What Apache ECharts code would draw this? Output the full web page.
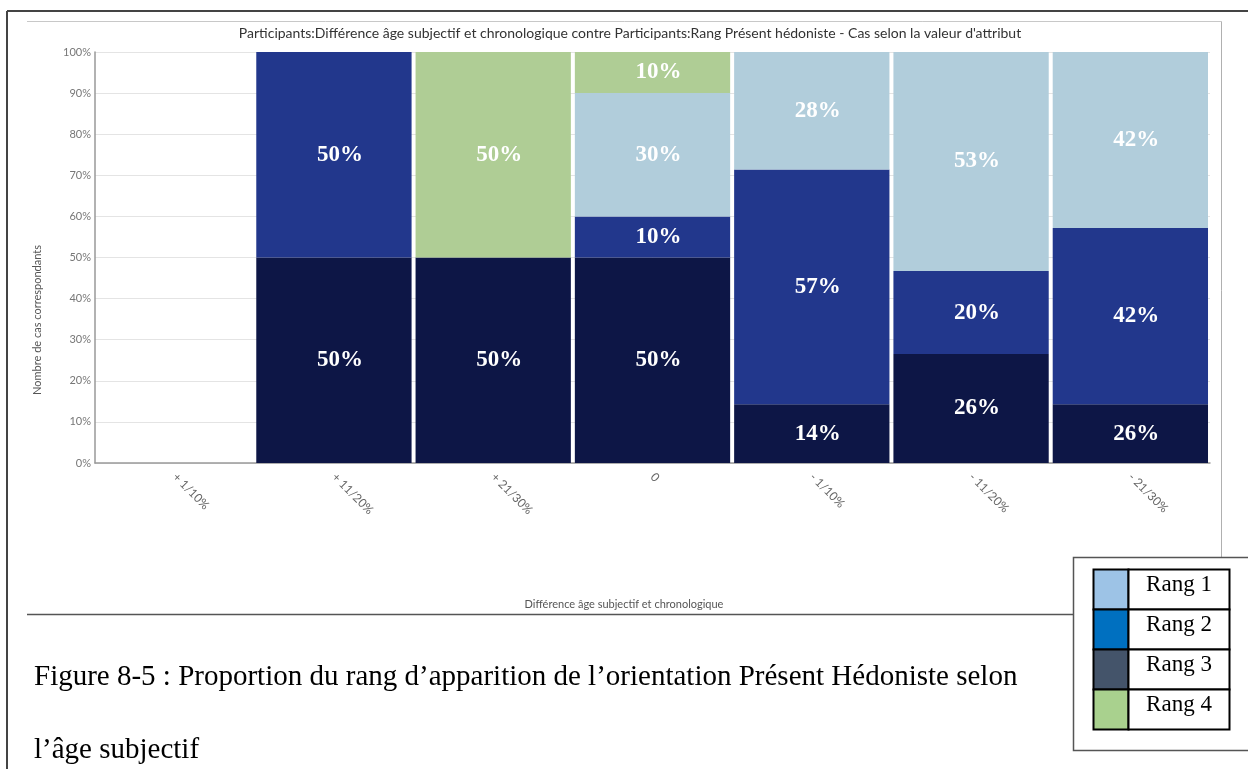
<!DOCTYPE html>
<html><head><meta charset="utf-8">
<script src="https://cdn.jsdelivr.net/npm/echarts@6/dist/echarts.min.js"></script>
<style>html,body{margin:0;padding:0;background:#fff}#c{width:1248px;height:769px}</style>
</head><body><div id="c"></div>
<script>
const categories = ['+ 1/10%', '+ 11/20%', '+ 21/30%', '0', '- 1/10%', '- 11/20%', '- 21/30%'];
const rang3Values = [0, 50, 50, 50, 14.3, 26.5, 14.3];
const rang2Values = [0, 50, 0, 10, 57.1, 20.2, 42.9];
const rang1Values = [0, 0, 0, 30, 28.6, 53.3, 42.8];
const rang4Values = [0, 0, 50, 10, 0, 0, 0];
const rang3Labels = ['', '50%', '50%', '50%', '14%', '26%', '26%'];
const rang2Labels = ['', '50%', '', '10%', '57%', '20%', '42%'];
const rang1Labels = ['', '', '', '30%', '28%', '53%', '42%'];
const rang4Labels = ['', '', '50%', '10%', '', '', ''];
const yTicks = [0, 10, 20, 30, 40, 50, 60, 70, 80, 90, 100];
const legendNames = ['Rang 1', 'Rang 2', 'Rang 3', 'Rang 4'];
const legendColors = ['#9dc3e6', '#0070c0', '#44546a', '#a9d18e'];
const chartTitle = "Participants:Différence âge subjectif et chronologique contre Participants:Rang Présent hédoniste - Cas selon la valeur d'attribut";
const yName = 'Nombre de cas correspondants';
const xName = 'Différence âge subjectif et chronologique';
const caption1 = 'Figure 8-5 : Proportion du rang d\u2019apparition de l\u2019orientation Présent Hédoniste selon';
const caption2 = 'l\u2019âge subjectif';

const chart = echarts.init(document.getElementById('c'), null, {renderer: 'canvas'});
function mk(name, vals, labs, color) {
  return {
    name: name, type: 'bar', stack: 'all', data: vals, barCategoryGap: '2.5%',
    itemStyle: {color: color},
    label: {show: true, position: 'inside', offset: [6, 0], color: '#fff', fontFamily: 'Liberation Serif',
      fontWeight: 'bold', fontSize: 23, formatter: p => labs[p.dataIndex]},
    emphasis: {disabled: true}
  };
}
const graphics = [
  {type: 'line', shape: {x1: 7, y1: 11, x2: 1248, y2: 11}, style: {stroke: '#444', lineWidth: 2}, z: 100},
  {type: 'line', shape: {x1: 7, y1: 11, x2: 7, y2: 769}, style: {stroke: '#444', lineWidth: 2}, z: 100},
  {type: 'line', shape: {x1: 27, y1: 21.5, x2: 1221.5, y2: 21.5}, style: {stroke: '#c8c8c8', lineWidth: 1}, z: 100},
  {type: 'line', shape: {x1: 1221.5, y1: 21.5, x2: 1221.5, y2: 560}, style: {stroke: '#b0b0b0', lineWidth: 1}, z: 100},
  {type: 'line', shape: {x1: 27, y1: 614.5, x2: 1073, y2: 614.5}, style: {stroke: '#555', lineWidth: 1.5}, z: 100},
  {type: 'text', x: 37, y: 320, rotation: Math.PI / 2, style: {text: yName, font: '11px Lato', fill: '#555', textAlign: 'center', textVerticalAlign: 'middle'}, z: 100},
  {type: 'text', x: 624, y: 604, style: {text: xName, font: '11px Lato', fill: '#555', textAlign: 'center', textVerticalAlign: 'middle'}, z: 100},
  {type: 'text', x: 34, y: 677, style: {text: caption1, font: '29px "Liberation Serif"', fill: '#000', textAlign: 'left', textVerticalAlign: 'middle'}, z: 100},
  {type: 'text', x: 34, y: 750, style: {text: caption2, font: '29px "Liberation Serif"', fill: '#000', textAlign: 'left', textVerticalAlign: 'middle'}, z: 100},
  {type: 'rect', shape: {x: 1073.5, y: 557.5, width: 180, height: 193}, style: {fill: '#fff', stroke: '#555', lineWidth: 1.5}, z: 100}
];
const tx = 1093.5, ty = 569.5, rowH = 40, swW = 35, tw = 136;
legendNames.forEach((n, i) => {
  graphics.push({type: 'rect', shape: {x: tx, y: ty + i * rowH, width: swW, height: rowH}, style: {fill: legendColors[i], stroke: '#000', lineWidth: 2}, z: 101});
  graphics.push({type: 'rect', shape: {x: tx + swW, y: ty + i * rowH, width: tw - swW, height: rowH}, style: {fill: '#fff', stroke: '#000', lineWidth: 2}, z: 101});
  graphics.push({type: 'text', x: tx + swW + (tw - swW) / 2, y: ty + i * rowH + 15, style: {text: n, font: '23px "Liberation Serif"', fill: '#000', textAlign: 'center', textVerticalAlign: 'middle'}, z: 102});
});
chart.setOption({
  animation: false,
  backgroundColor: '#fff',
  title: {text: chartTitle, left: 625, textAlign: 'center', top: 21,
    textStyle: {fontFamily: 'Lato', fontSize: 14, fontWeight: 'normal', color: '#333'}},
  grid: {left: 95, right: 38, top: 52, bottom: 306},
  xAxis: {type: 'category', data: categories,
    axisLine: {lineStyle: {color: '#999', width: 1.5}}, axisTick: {show: false},
    axisLabel: {rotate: -45, fontFamily: 'Lato', fontSize: 12, color: '#666', margin: 12}},
  yAxis: {type: 'value', min: 0, max: 100, interval: 10,
    axisLine: {show: true, lineStyle: {color: '#999', width: 1.5}}, axisTick: {show: false},
    axisLabel: {fontFamily: 'Lato', fontSize: 11, color: '#777', margin: 4,
      formatter: v => (yTicks.indexOf(v) >= 0 ? v + '%' : '')},
    splitLine: {lineStyle: {color: '#e4e4e4', width: 1}}},
  series: [
    mk('Rang 3', rang3Values, rang3Labels, '#0d1646'),
    mk('Rang 2', rang2Values, rang2Labels, '#22378c'),
    mk('Rang 1', rang1Values, rang1Labels, '#b1cddb'),
    mk('Rang 4', rang4Values, rang4Labels, '#afcd95')
  ],
  graphic: graphics
});
</script></body></html>
